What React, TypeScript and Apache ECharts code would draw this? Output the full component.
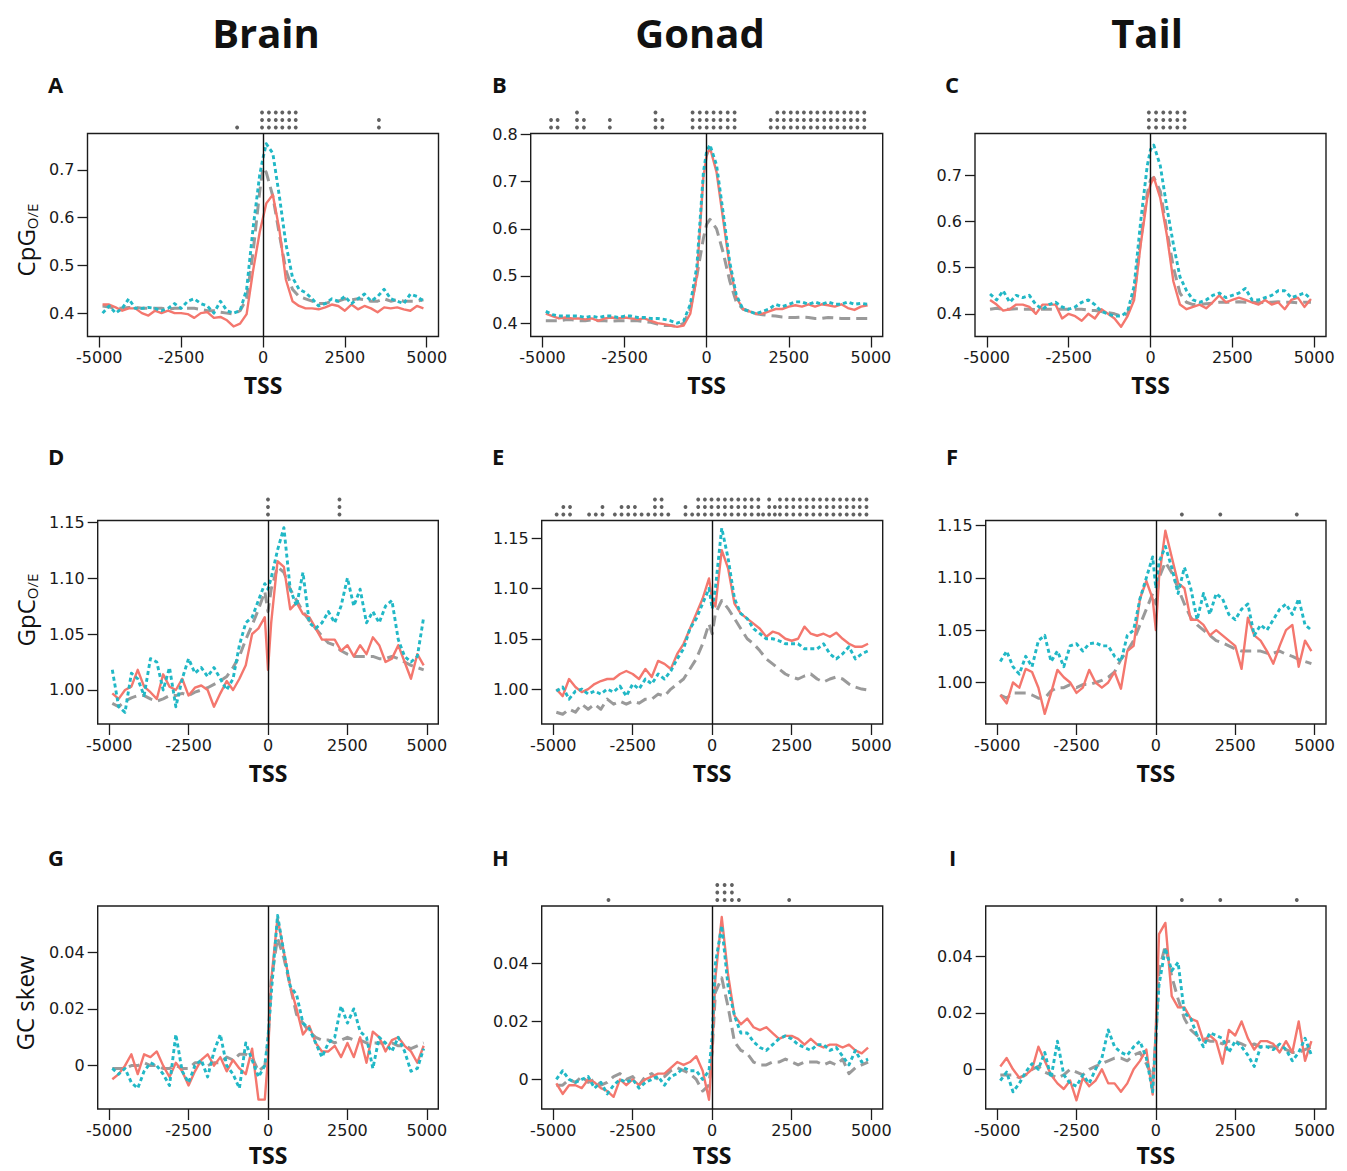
import React, { useEffect, useRef } from "react";
import * as echarts from "echarts";

// ---- shared axis data ----
const TSS_BINS = [-4900,-4700,-4500,-4300,-4100,-3900,-3700,-3500,-3300,-3100,-2900,-2700,-2500,-2300,-2100,-1900,-1700,-1500,-1300,-1100,-900,-700,-500,-300,-100,0,100,300,500,700,900,1100,1300,1500,1700,1900,2100,2300,2500,2700,2900,3100,3300,3500,3700,3900,4100,4300,4500,4700,4900];
const TSS_TICKS = [-5000, -2500, 0, 2500, 5000];
const CPG_TICKS_SHORT = [0.4, 0.5, 0.6, 0.7];
const CPG_TICKS_LONG = [0.4, 0.5, 0.6, 0.7, 0.8];
const GPC_TICKS = [1.0, 1.05, 1.1, 1.15];
const SKEW_TICKS = [0, 0.02, 0.04];
const COLUMN_TITLES = ["Brain", "Gonad", "Tail"];
const ROW_TITLES = ["CpG", "GpC", "GC skew"];
const ROW_SUBS = ["O/E", "O/E", ""];

// ---- Panel A: CpG o/e, Brain ----
const A_RED = [0.418,0.418,0.412,0.405,0.41,0.41,0.40,0.395,0.405,0.40,0.405,0.40,0.40,0.398,0.39,0.40,0.402,0.39,0.392,0.385,0.372,0.378,0.398,0.49,0.57,0.60,0.63,0.648,0.575,0.47,0.425,0.415,0.41,0.41,0.408,0.412,0.418,0.415,0.405,0.418,0.408,0.415,0.41,0.402,0.412,0.41,0.412,0.408,0.405,0.415,0.41];
const A_CYAN = [0.40,0.415,0.40,0.41,0.43,0.41,0.41,0.412,0.41,0.405,0.41,0.42,0.41,0.425,0.43,0.42,0.415,0.40,0.425,0.405,0.40,0.405,0.45,0.58,0.69,0.725,0.755,0.735,0.645,0.545,0.475,0.45,0.443,0.43,0.415,0.42,0.43,0.425,0.435,0.42,0.43,0.44,0.425,0.435,0.45,0.43,0.425,0.42,0.44,0.435,0.425];
const A_GRAY = [0.415,0.413,0.41,0.41,0.412,0.412,0.41,0.41,0.41,0.41,0.408,0.41,0.41,0.41,0.41,0.408,0.405,0.405,0.402,0.40,0.398,0.405,0.43,0.53,0.655,0.705,0.695,0.645,0.565,0.49,0.45,0.435,0.43,0.425,0.42,0.42,0.425,0.425,0.43,0.428,0.43,0.428,0.425,0.425,0.43,0.425,0.428,0.425,0.425,0.425,0.428];
const A_STARS = [[-790,1],[-30,3],[180,3],[390,3],[590,3],[800,3],[1000,3],[3540,2]];

// ---- Panel B: CpG o/e, Gonad ----
const B_RED = [0.42,0.415,0.41,0.412,0.41,0.41,0.408,0.41,0.405,0.41,0.412,0.41,0.412,0.41,0.408,0.41,0.405,0.40,0.398,0.395,0.392,0.395,0.42,0.50,0.71,0.755,0.772,0.72,0.62,0.52,0.455,0.43,0.425,0.42,0.42,0.425,0.43,0.43,0.435,0.438,0.435,0.44,0.435,0.44,0.438,0.435,0.44,0.432,0.428,0.435,0.438];
const B_CYAN = [0.425,0.418,0.415,0.415,0.415,0.415,0.412,0.415,0.412,0.415,0.415,0.412,0.415,0.415,0.412,0.412,0.41,0.41,0.408,0.405,0.40,0.405,0.44,0.52,0.72,0.765,0.778,0.735,0.635,0.53,0.46,0.43,0.425,0.42,0.425,0.43,0.44,0.435,0.44,0.445,0.445,0.44,0.445,0.44,0.445,0.44,0.44,0.445,0.44,0.442,0.44];
const B_GRAY = [0.405,0.405,0.405,0.407,0.407,0.405,0.405,0.407,0.405,0.405,0.404,0.405,0.405,0.405,0.405,0.403,0.402,0.398,0.395,0.395,0.393,0.40,0.43,0.50,0.58,0.61,0.62,0.60,0.55,0.49,0.445,0.43,0.425,0.42,0.418,0.416,0.415,0.413,0.412,0.412,0.413,0.412,0.41,0.41,0.412,0.411,0.41,0.41,0.41,0.41,0.41];
const B_STARS = [[-4740,2],[-4540,2],[-3950,3],[-3740,2],[-2950,2],[-1560,3],[-1350,2],[-430,3],[-210,3],[0,3],[210,3],[420,3],[640,3],[850,3],[1950,2],[2150,3],[2350,3],[2560,3],[2760,3],[2960,3],[3170,3],[3370,3],[3580,3],[3780,3],[3980,3],[4190,3],[4390,3],[4590,3],[4800,3]];

// ---- Panel C: CpG o/e, Tail ----
const C_RED = [0.43,0.42,0.407,0.41,0.42,0.42,0.415,0.40,0.42,0.42,0.42,0.39,0.40,0.395,0.385,0.40,0.39,0.41,0.40,0.39,0.372,0.395,0.43,0.55,0.65,0.68,0.695,0.65,0.57,0.47,0.42,0.41,0.415,0.42,0.412,0.425,0.44,0.425,0.43,0.435,0.43,0.425,0.42,0.43,0.42,0.425,0.41,0.43,0.435,0.415,0.432];
const C_CYAN = [0.443,0.43,0.45,0.425,0.44,0.435,0.44,0.42,0.41,0.42,0.425,0.415,0.41,0.415,0.425,0.43,0.42,0.405,0.40,0.395,0.395,0.405,0.46,0.60,0.72,0.755,0.765,0.72,0.63,0.55,0.48,0.45,0.43,0.425,0.43,0.44,0.445,0.435,0.44,0.445,0.455,0.43,0.43,0.435,0.44,0.45,0.45,0.435,0.44,0.445,0.432];
const C_GRAY = [0.41,0.412,0.41,0.41,0.411,0.41,0.41,0.409,0.41,0.41,0.41,0.41,0.41,0.41,0.41,0.408,0.407,0.405,0.403,0.40,0.395,0.40,0.44,0.56,0.66,0.69,0.695,0.665,0.58,0.50,0.445,0.425,0.42,0.42,0.422,0.423,0.425,0.425,0.425,0.426,0.425,0.425,0.424,0.425,0.425,0.426,0.425,0.425,0.424,0.425,0.425];
const C_STARS = [[-50,3],[170,3],[390,3],[600,3],[820,3],[1040,3]];

// ---- Panel D: GpC o/e, Brain ----
const D_RED = [0.997,0.992,1.0,1.003,1.018,1.003,0.998,0.992,1.014,1.003,1.0,1.01,0.995,1.002,1.004,1.0,0.985,0.997,1.008,1.0,1.01,1.022,1.05,1.055,1.065,1.018,1.06,1.115,1.11,1.072,1.078,1.068,1.065,1.055,1.045,1.045,1.045,1.035,1.04,1.03,1.04,1.032,1.047,1.04,1.025,1.028,1.04,1.025,1.01,1.032,1.022];
const D_CYAN = [1.018,0.985,0.98,1.015,1.01,0.995,1.028,1.025,1.0,1.02,0.985,1.01,1.028,1.015,1.02,1.012,1.02,1.01,1.0,1.01,1.04,1.06,1.065,1.08,1.095,1.09,1.10,1.125,1.145,1.09,1.075,1.105,1.06,1.055,1.06,1.07,1.06,1.075,1.10,1.075,1.09,1.06,1.07,1.06,1.075,1.08,1.045,1.03,1.025,1.03,1.065];
const D_GRAY = [0.988,0.985,0.99,0.993,0.995,0.995,0.992,0.99,0.992,0.995,0.995,0.997,0.995,0.998,1.0,1.002,1.005,1.008,1.012,1.02,1.03,1.045,1.058,1.072,1.088,1.07,1.09,1.11,1.105,1.09,1.08,1.07,1.062,1.055,1.048,1.042,1.04,1.035,1.032,1.03,1.03,1.03,1.03,1.028,1.028,1.03,1.028,1.025,1.022,1.02,1.018];
const D_STARS = [[0,3],[2250,3]];

// ---- Panel E: GpC o/e, Gonad ----
const E_RED = [1.0,0.993,1.01,1.002,0.997,1.0,1.005,1.008,1.01,1.01,1.015,1.018,1.015,1.01,1.02,1.012,1.028,1.025,1.02,1.035,1.045,1.06,1.075,1.09,1.11,1.088,1.082,1.138,1.12,1.085,1.075,1.07,1.065,1.06,1.052,1.057,1.055,1.05,1.048,1.05,1.062,1.055,1.053,1.055,1.052,1.056,1.05,1.045,1.042,1.042,1.045];
const E_CYAN = [0.998,1.002,0.99,0.998,1.0,0.995,0.998,0.995,1.0,0.997,1.003,0.993,1.005,1.0,1.01,1.005,1.015,1.01,1.018,1.03,1.04,1.06,1.07,1.085,1.10,1.08,1.10,1.16,1.13,1.09,1.075,1.07,1.06,1.055,1.05,1.05,1.048,1.045,1.045,1.045,1.04,1.04,1.04,1.045,1.035,1.03,1.035,1.042,1.03,1.035,1.038];
const E_GRAY = [0.977,0.975,0.98,0.977,0.985,0.98,0.985,0.98,0.99,0.985,0.988,0.985,0.988,0.986,0.99,0.99,0.995,0.993,1.0,1.005,1.01,1.02,1.03,1.045,1.065,1.055,1.075,1.088,1.08,1.07,1.06,1.05,1.045,1.038,1.03,1.025,1.02,1.015,1.012,1.01,1.013,1.015,1.01,1.007,1.01,1.012,1.01,1.005,1.002,1.0,0.999];
const E_STARS = [[-4890,1],[-4680,2],[-4470,2],[-3870,1],[-3660,1],[-3450,2],[-3060,1],[-2850,2],[-2640,2],[-2430,2],[-2220,1],[-2010,1],[-1800,3],[-1590,3],[-1380,1],[-840,2],[-630,1],[-440,3],[-230,3],[-20,3],[190,3],[400,3],[610,3],[820,3],[1030,3],[1240,3],[1450,3],[1600,1],[1790,3],[1970,2],[2130,3],[2340,3],[2550,3],[2760,3],[2970,3],[3180,3],[3390,3],[3600,3],[3810,3],[4020,3],[4230,3],[4440,3],[4640,3],[4850,3]];

// ---- Panel F: GpC o/e, Tail ----
const F_RED = [0.988,0.98,1.0,0.995,1.013,1.01,0.995,0.97,0.99,1.012,1.005,1.0,0.99,0.995,1.012,1.0,0.995,1.0,1.01,0.994,1.03,1.035,1.08,1.097,1.08,1.05,1.10,1.145,1.12,1.095,1.09,1.06,1.06,1.055,1.045,1.05,1.045,1.04,1.035,1.013,1.062,1.045,1.04,1.03,1.018,1.035,1.05,1.055,1.015,1.04,1.03];
const F_CYAN = [1.02,1.03,1.015,1.008,1.025,1.015,1.04,1.045,1.02,1.03,1.015,1.035,1.037,1.03,1.037,1.038,1.035,1.035,1.025,1.02,1.045,1.05,1.08,1.10,1.12,1.09,1.115,1.13,1.11,1.085,1.11,1.09,1.06,1.085,1.065,1.085,1.08,1.065,1.06,1.07,1.075,1.045,1.055,1.05,1.06,1.07,1.075,1.065,1.08,1.055,1.05];
const F_GRAY = [0.988,0.985,0.99,0.99,0.99,0.988,0.985,0.985,0.992,0.995,0.995,0.998,0.995,0.998,0.998,1.0,1.002,1.005,1.01,1.022,1.03,1.04,1.055,1.07,1.085,1.075,1.10,1.115,1.105,1.09,1.075,1.062,1.055,1.05,1.045,1.04,1.038,1.035,1.032,1.03,1.03,1.03,1.03,1.028,1.028,1.03,1.027,1.025,1.022,1.02,1.018];
const F_STARS = [[820,1],[2030,1],[4440,1]];

// ---- Panel G: GC skew, Brain ----
const G_RED = [-0.0048,-0.003,0.0,0.004,-0.003,0.004,0.003,0.005,0.0,-0.004,0.001,-0.002,-0.007,-0.002,0.002,0.004,0.0,0.003,-0.002,0.002,-0.001,-0.003,0.006,-0.012,-0.012,0.003,0.03,0.052,0.04,0.028,0.02,0.011,0.014,0.008,0.005,0.005,0.007,0.003,0.008,0.003,0.01,0.001,0.012,0.01,0.005,0.009,0.01,0.007,0.005,0.001,0.007];
const G_CYAN = [-0.001,-0.003,-0.001,-0.006,-0.008,-0.002,0.001,0.0,-0.003,-0.007,0.011,-0.002,-0.006,0.0,0.002,-0.004,0.005,0.011,0.0,-0.003,-0.008,0.008,0.002,-0.004,0.0,0.01,0.025,0.053,0.04,0.028,0.025,0.015,0.013,0.008,0.003,0.008,0.01,0.021,0.015,0.02,0.012,0.01,-0.001,0.01,0.008,0.005,0.01,0.005,-0.002,-0.001,0.006];
const G_GRAY = [-0.001,-0.001,-0.001,0.0,0.0,0.001,0.0,0.0,-0.001,-0.001,0.0,-0.001,-0.001,0.001,0.001,0.0,0.001,0.001,0.003,0.002,0.004,0.004,0.003,-0.002,0.0,0.008,0.03,0.045,0.038,0.028,0.018,0.015,0.012,0.01,0.009,0.009,0.008,0.009,0.01,0.009,0.009,0.008,0.008,0.008,0.008,0.008,0.007,0.007,0.006,0.007,0.008];
const G_STARS: number[][] = [];

// ---- Panel H: GC skew, Gonad ----
const H_RED = [-0.0014,-0.005,-0.002,-0.002,-0.003,0.0,-0.001,-0.003,-0.004,-0.006,0.0,-0.002,0.0,-0.002,0.0,0.001,0.002,0.002,0.004,0.006,0.005,0.006,0.008,0.003,-0.007,0.01,0.035,0.056,0.036,0.022,0.019,0.021,0.018,0.017,0.018,0.016,0.014,0.015,0.015,0.014,0.012,0.014,0.012,0.011,0.012,0.012,0.011,0.012,0.01,0.009,0.011];
const H_CYAN = [0.0,0.003,0.0,-0.001,0.0,0.001,-0.003,-0.001,-0.005,-0.002,0.0,-0.001,0.0,-0.003,-0.001,0.0,0.001,-0.002,0.001,0.002,0.004,0.003,0.003,0.0,0.003,0.015,0.04,0.053,0.032,0.022,0.016,0.016,0.013,0.011,0.01,0.012,0.014,0.015,0.014,0.012,0.011,0.01,0.012,0.012,0.01,0.011,0.008,0.005,0.01,0.006,0.007];
const H_GRAY = [-0.002,-0.002,0.0,-0.001,0.001,-0.001,0.0,-0.002,-0.001,0.001,0.002,0.0,0.001,-0.002,0.001,0.002,0.0,0.001,0.003,0.004,0.003,0.002,0.0,-0.004,-0.002,0.01,0.03,0.035,0.025,0.013,0.01,0.009,0.006,0.005,0.005,0.006,0.006,0.007,0.006,0.005,0.006,0.006,0.006,0.005,0.006,0.005,0.007,0.002,0.004,0.005,0.006];
const H_STARS = [[-3260,1],[160,3],[390,3],[620,3],[840,1],[2420,1]];

// ---- Panel I: GC skew, Tail ----
const I_RED = [0.001,0.004,0.0,-0.003,-0.002,0.0,0.008,0.003,-0.002,-0.005,-0.007,-0.004,-0.011,-0.003,-0.006,-0.004,0.0,-0.005,-0.005,-0.008,-0.005,0.0,0.003,0.007,-0.009,0.015,0.048,0.052,0.026,0.022,0.022,0.018,0.017,0.01,0.012,0.01,0.002,0.014,0.012,0.017,0.011,0.007,0.01,0.01,0.009,0.006,0.01,0.006,0.017,0.003,0.01];
const I_CYAN = [-0.004,-0.001,-0.008,-0.005,-0.001,0.002,0.0,0.006,-0.003,0.01,-0.002,-0.005,-0.006,-0.002,-0.005,0.0,0.004,0.014,0.008,0.006,0.005,0.008,0.01,0.004,-0.008,0.012,0.03,0.043,0.035,0.038,0.02,0.018,0.012,0.008,0.013,0.012,0.011,0.006,0.01,0.008,0.005,0.001,0.008,0.008,0.007,0.009,0.007,0.003,0.006,0.011,0.005];
const I_GRAY = [-0.002,-0.002,-0.002,-0.003,-0.002,0.0,0.001,-0.001,-0.002,-0.003,-0.002,0.0,-0.001,-0.002,0.0,0.001,0.002,0.003,0.004,0.004,0.003,0.005,0.006,0.002,-0.003,0.01,0.035,0.044,0.033,0.025,0.018,0.014,0.012,0.011,0.01,0.01,0.009,0.01,0.01,0.009,0.008,0.009,0.008,0.008,0.008,0.008,0.007,0.006,0.006,0.007,0.008];
const I_STARS = [[820,1],[2030,1],[4440,1]];

// ---- layout / style ----
const FONT = '"Open Sans", "Noto Sans", sans-serif';
const TICK_FONT = '"DejaVu Sans", "Open Sans", sans-serif';
const RED = "#F4776E";
const CYAN = "#21B8C6";
const GRAY = "#9A9A9A";
const X_EXT = 5360;

const fmt1 = (v: number) => v.toFixed(1);
const fmt2 = (v: number) => v.toFixed(2);
const fmtSkew = (v: number) => (Math.abs(v) < 1e-9 ? "0" : v.toFixed(2));

const PANELS = [
  { letter: "A", box: [87.5, 133.5, 351, 203], y: [0.351, 0.7765], ticks: CPG_TICKS_SHORT, fmt: fmt1, red: A_RED, cyan: A_CYAN, gray: A_GRAY, stars: A_STARS, lp: [48, 84], gap: 37 },
  { letter: "B", box: [530.7, 133.5, 352, 203], y: [0.3717, 0.802], ticks: CPG_TICKS_LONG, fmt: fmt1, red: B_RED, cyan: B_CYAN, gray: B_GRAY, stars: B_STARS, lp: [492, 84], gap: 37 },
  { letter: "C", box: [975, 133.5, 351, 203], y: [0.351, 0.79], ticks: CPG_TICKS_SHORT, fmt: fmt1, red: C_RED, cyan: C_CYAN, gray: C_GRAY, stars: C_STARS, lp: [945, 84], gap: 37 },
  { letter: "D", box: [97.7, 520.5, 340.6, 203.5], y: [0.9696, 1.1514], ticks: GPC_TICKS, fmt: fmt2, red: D_RED, cyan: D_CYAN, gray: D_GRAY, stars: D_STARS, lp: [48, 456], gap: 37 },
  { letter: "E", box: [541.7, 520.5, 341, 203.5], y: [0.9653, 1.1675], ticks: GPC_TICKS, fmt: fmt2, red: E_RED, cyan: E_CYAN, gray: E_GRAY, stars: E_STARS, lp: [492, 456], gap: 37 },
  { letter: "F", box: [985.7, 520.5, 340.3, 203.5], y: [0.9603, 1.1548], ticks: GPC_TICKS, fmt: fmt2, red: F_RED, cyan: F_CYAN, gray: F_GRAY, stars: F_STARS, lp: [946, 456], gap: 37 },
  { letter: "G", box: [97.7, 906, 340.6, 203], y: [-0.0153, 0.0563], ticks: SKEW_TICKS, fmt: fmtSkew, red: G_RED, cyan: G_CYAN, gray: G_GRAY, stars: G_STARS, lp: [48, 857], gap: 34 },
  { letter: "H", box: [541.7, 906, 341, 203], y: [-0.0102, 0.0598], ticks: SKEW_TICKS, fmt: fmtSkew, red: H_RED, cyan: H_CYAN, gray: H_GRAY, stars: H_STARS, lp: [492, 857], gap: 34 },
  { letter: "I", box: [985.7, 906, 340.3, 203], y: [-0.0141, 0.058], ticks: SKEW_TICKS, fmt: fmtSkew, red: I_RED, cyan: I_CYAN, gray: I_GRAY, stars: I_STARS, lp: [949, 857], gap: 34 },
];

const COLUMN_TITLE_POS = [[266, 32], [700, 32], [1147, 32]];
const ROW_TITLE_POS = [[25, 240], [25, 610], [24, 1003]];

function buildOption() {
  const grid: any[] = [];
  const xAxis: any[] = [];
  const yAxis: any[] = [];
  const series: any[] = [];
  const graphic: any[] = [];

  PANELS.forEach((p, i) => {
    const [left, top, width, height] = p.box;
    const gi = 2 * i;
    grid.push({ left, top, width, height, show: true, borderColor: "#1c1c1c", borderWidth: 1.4, backgroundColor: "transparent" });
    xAxis.push({
      type: "value", gridIndex: gi, min: -X_EXT, max: X_EXT,
      axisLine: { show: false, onZero: false },
      axisTick: { show: true, length: 11, customValues: TSS_TICKS, lineStyle: { color: "#1c1c1c", width: 1.3 } },
      axisLabel: { customValues: TSS_TICKS, margin: 13, fontSize: 16, color: "#1a1a1a", fontFamily: TICK_FONT, formatter: (v: number) => String(v) },
      splitLine: { show: false },
      name: "TSS", nameLocation: "middle", nameGap: p.gap,
      nameTextStyle: { fontSize: 23, fontWeight: "bold", fontFamily: FONT, color: "#111" },
    });
    yAxis.push({
      type: "value", gridIndex: gi, min: p.y[0], max: p.y[1],
      axisLine: { show: false, onZero: false },
      axisTick: { show: true, length: 10, customValues: p.ticks, lineStyle: { color: "#1c1c1c", width: 1.3 } },
      axisLabel: { customValues: p.ticks, margin: 13, fontSize: 16, color: "#1a1a1a", fontFamily: TICK_FONT, formatter: p.fmt },
      splitLine: { show: false },
    });
    // star strip grid above the panel
    grid.push({ left, top: top - 30, width, height: 30, show: false });
    xAxis.push({ type: "value", gridIndex: gi + 1, min: -X_EXT, max: X_EXT, show: false, axisLine: { onZero: false } });
    yAxis.push({ type: "value", gridIndex: gi + 1, min: 0, max: 4, show: false, axisLine: { onZero: false } });

    const line = (arr: number[], color: string, width: number, type: any, z: number, extra: any = {}) => ({
      type: "line", xAxisIndex: gi, yAxisIndex: gi,
      data: TSS_BINS.map((x, k) => [x, arr[k]]),
      symbol: "none", showSymbol: false, silent: true, z,
      lineStyle: { color, width, type, cap: "butt", join: "round" },
      ...extra,
    });
    series.push(line(p.gray, GRAY, 3, [11, 6], 2));
    series.push(line(p.red, RED, 2.4, "solid", 3, {
      markLine: {
        silent: true, symbol: ["none", "none"], label: { show: false },
        lineStyle: { color: "#111", width: 1.4, type: "solid" },
        data: [{ xAxis: 0 }],
      },
    }));
    series.push(line(p.cyan, CYAN, 2.9, [4, 3], 4));

    const pts: number[][] = [];
    p.stars.forEach(([x, lvl]) => {
      for (let k = 1; k <= lvl; k++) pts.push([x, k - 0.2]);
    });
    series.push({
      type: "scatter", xAxisIndex: gi + 1, yAxisIndex: gi + 1, data: pts,
      symbol: "circle", symbolSize: 3.8, itemStyle: { color: "#3a3a3a" }, silent: true,
    });

    graphic.push({
      type: "text", x: p.lp[0], y: p.lp[1],
      style: { text: p.letter, fontSize: 22, fontWeight: "bold", fontFamily: FONT, fill: "#111", align: "left", verticalAlign: "middle" },
    });
  });

  COLUMN_TITLES.forEach((t, i) => {
    graphic.push({
      type: "text", x: COLUMN_TITLE_POS[i][0], y: COLUMN_TITLE_POS[i][1],
      style: { text: t, fontSize: 40, fontWeight: "bold", fontFamily: FONT, fill: "#111", align: "center", verticalAlign: "middle" },
    });
  });

  ROW_TITLES.forEach((t, i) => {
    const sub = ROW_SUBS[i];
    graphic.push({
      type: "text", x: ROW_TITLE_POS[i][0], y: ROW_TITLE_POS[i][1], rotation: Math.PI / 2,
      style: {
        text: sub ? `{m|${t}}{s|${sub}}` : `{m|${t}}`,
        align: "center", verticalAlign: "middle",
        rich: {
          m: { fontSize: 24, fontFamily: FONT, fill: "#111", lineHeight: 28 },
          s: { fontSize: 15, fontFamily: FONT, fill: "#111", lineHeight: 12, verticalAlign: "bottom" },
        },
      },
    });
  });

  return { animation: false, backgroundColor: "#ffffff", grid, xAxis, yAxis, series, graphic };
}

export default function App() {
  const ref = useRef<HTMLDivElement>(null);
  useEffect(() => {
    document.body.style.margin = "0";
    if (!ref.current) return;
    const chart = echarts.init(ref.current, undefined, { renderer: "svg" });
    chart.setOption(buildOption() as any);
    return () => chart.dispose();
  }, []);
  return <div ref={ref} style={{ width: 1347, height: 1171 }} />;
}
